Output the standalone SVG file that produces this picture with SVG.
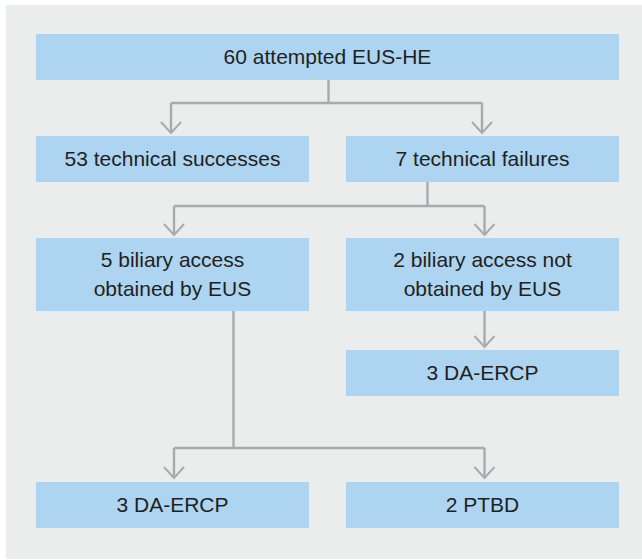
<svg xmlns="http://www.w3.org/2000/svg" width="642" height="560" viewBox="0 0 642 560">
<style>
.box{fill:#ADD4F0}
.t{font-family:"Liberation Sans",Arial,sans-serif;font-size:21px;fill:#231F20;text-anchor:middle}
.ln{fill:none;stroke:#A9AAAC;stroke-width:2.4}
.ah{fill:none;stroke:#A9AAAC;stroke-width:2}
</style>
<rect x="0" y="0" width="642" height="560" fill="#FFFFFF"/>
<rect x="6" y="5" width="636" height="554" fill="#EBEDED"/>
<g id="connectors">
<path class="ln" d="M328.5 80 V103 M171 103 H482 M171 103 V132 M482 103 V132"/>
<path class="ah" d="M161 122 L171 133 L181 122 M472 122 L482 133 L492 122"/>
<path class="ln" d="M427.5 182 V206 M174 206 H484.5 M174 206 V234 M484.5 206 V234"/>
<path class="ah" d="M164 224 L174 235 L184 224 M474.5 224 L484.5 235 L494.5 224"/>
<path class="ln" d="M484.5 311 V345"/>
<path class="ah" d="M474.5 336 L484.5 347 L494.5 336"/>
<path class="ln" d="M233.5 311 V448 M174 448 H484.5 M174 448 V476 M484.5 448 V476"/>
<path class="ah" d="M164 467 L174 478 L184 467 M474.5 467 L484.5 478 L494.5 467"/>
</g>
<g id="n1"><rect class="box" x="36" y="34" width="583" height="46"/><text class="t" x="327.5" y="64">60 attempted EUS-HE</text></g>
<g id="n2"><rect class="box" x="36" y="136" width="273" height="46"/><text class="t" x="172.5" y="166">53 technical successes</text></g>
<g id="n3"><rect class="box" x="346" y="136" width="273" height="46"/><text class="t" x="482.5" y="166">7 technical failures</text></g>
<g id="n4"><rect class="box" x="36" y="238" width="273" height="73"/><text class="t" x="172.5" y="267">5 biliary access</text><text class="t" x="172.5" y="296">obtained by EUS</text></g>
<g id="n5"><rect class="box" x="346" y="238" width="273" height="73"/><text class="t" x="482.5" y="267">2 biliary access not</text><text class="t" x="482.5" y="296">obtained by EUS</text></g>
<g id="n6"><rect class="box" x="346" y="350" width="273" height="46"/><text class="t" x="482.5" y="380">3 DA-ERCP</text></g>
<g id="n7"><rect class="box" x="36" y="482" width="273" height="46"/><text class="t" x="172.5" y="512">3 DA-ERCP</text></g>
<g id="n8"><rect class="box" x="346" y="482" width="273" height="46"/><text class="t" x="482.5" y="512">2 PTBD</text></g>
</svg>
